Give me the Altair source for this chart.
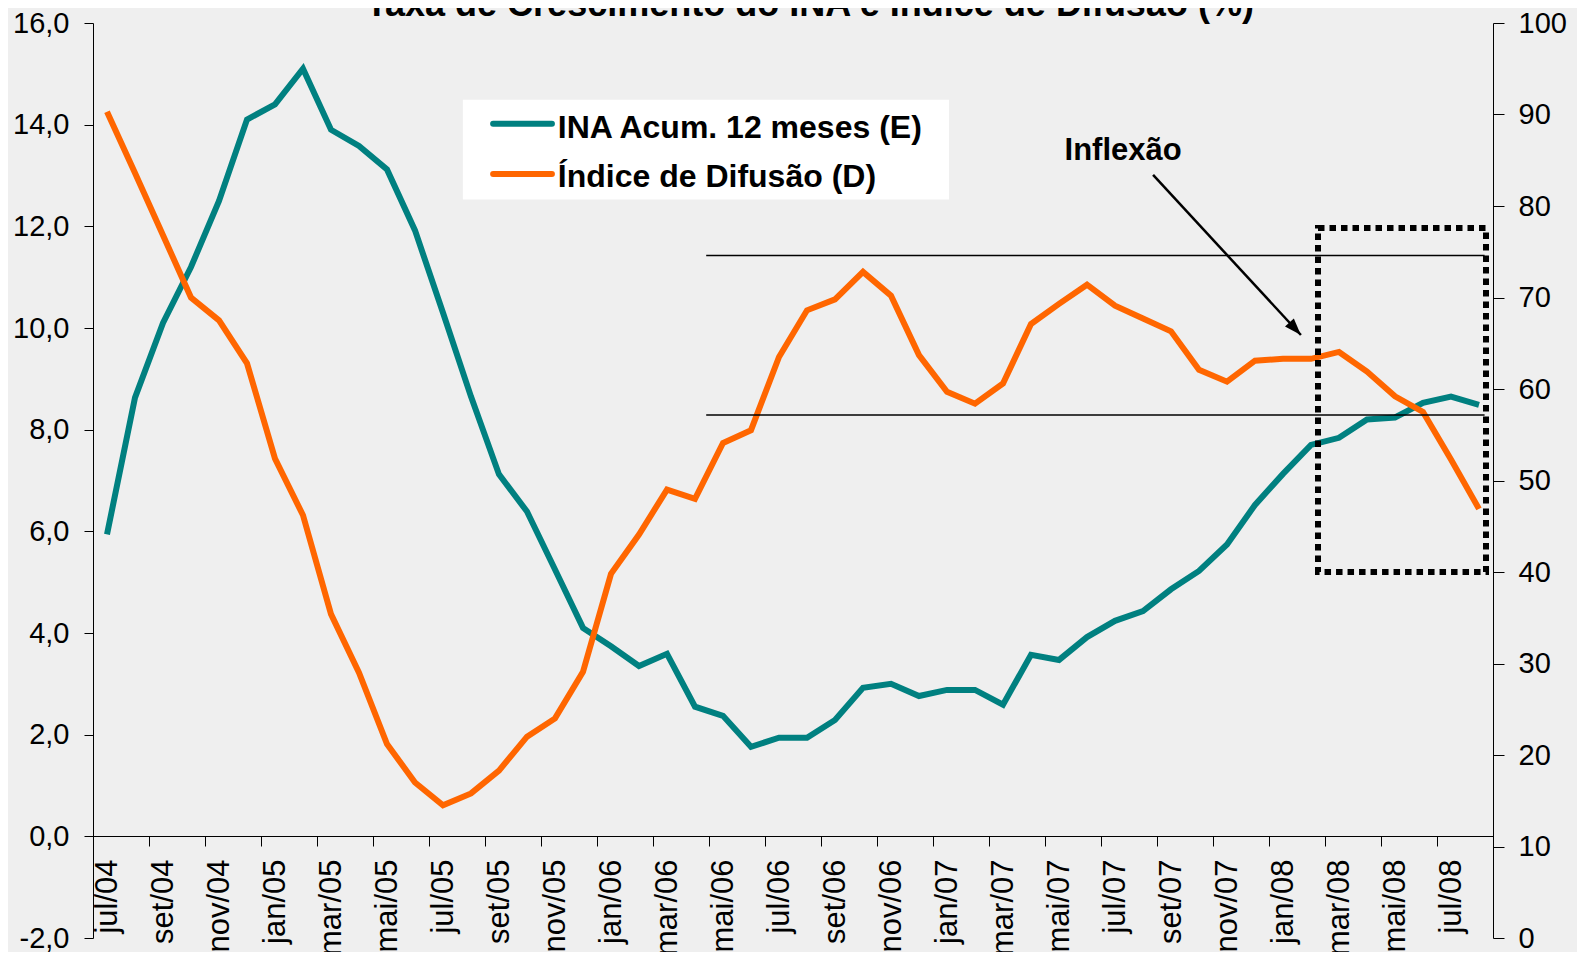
import json
import altair as alt
import pandas as pd

FONT = "Liberation Sans"

# ---- data -------------------------------------------------------------
months = [
    "jul/04", "ago/04", "set/04", "out/04", "nov/04", "dez/04",
    "jan/05", "fev/05", "mar/05", "abr/05", "mai/05", "jun/05",
    "jul/05", "ago/05", "set/05", "out/05", "nov/05", "dez/05",
    "jan/06", "fev/06", "mar/06", "abr/06", "mai/06", "jun/06",
    "jul/06", "ago/06", "set/06", "out/06", "nov/06", "dez/06",
    "jan/07", "fev/07", "mar/07", "abr/07", "mai/07", "jun/07",
    "jul/07", "ago/07", "set/07", "out/07", "nov/07", "dez/07",
    "jan/08", "fev/08", "mar/08", "abr/08", "mai/08", "jun/08",
    "jul/08", "ago/08",
]
ina = [
    5.94, 8.63, 10.1, 11.2, 12.5, 14.1, 14.4, 15.1, 13.9, 13.58,
    13.12, 11.92, 10.3, 8.65, 7.12, 6.39, 5.25, 4.1, 3.74, 3.35,
    3.59, 2.55, 2.37, 1.76, 1.94, 1.94, 2.29, 2.92, 3.0, 2.76,
    2.88, 2.88, 2.59, 3.57, 3.47, 3.92, 4.24, 4.43, 4.86, 5.22,
    5.74, 6.52, 7.13, 7.7, 7.84, 8.2, 8.24, 8.53, 8.65, 8.49,
]
difusao = [
    90.3, 83.6, 76.8, 70.0, 67.5, 62.8, 52.4, 46.2, 35.4, 29.0,
    21.2, 17.0, 14.5, 15.8, 18.3, 22.0, 24.0, 29.1, 39.8, 44.1,
    49.0, 48.0, 54.1, 55.5, 63.5, 68.6, 69.8, 72.8, 70.2, 63.7,
    59.7, 58.4, 60.6, 67.1, 69.3, 71.4, 69.1, 67.7, 66.3, 62.1,
    60.8, 63.1, 63.3, 63.3, 64.05, 61.9, 59.2, 57.5, 52.3, 46.9,
]
tick_months = months[::2]

title_text = "Taxa de Crescimento do INA e Índice de Difusão (%)"
series_names = ["INA Acum. 12 meses (E)", "Índice de Difusão (D)"]
series_colors = ["#008080", "#FF6600"]

# annotations (x in month units, y on the right-hand scale)
title_pos = [25.6, 100.75]
band_x0, band_x1 = [21.9], [49.7]
band_levels = [74.6, 57.15]
box_x = [43.75, 49.75]
box_y = [40.0, 77.6]
arrow_from = [37.86, 83.4]
arrow_to = [43.14, 65.9]
arrow_angle = 137.4
note_text = "Inflexão"
note_pos = [36.79, 85.08]
legend_box_x = [13.21, 30.57]
legend_box_y = [80.7, 91.6]
legend_sym_x = [14.29, 16.39]
legend_sym_y = [89.0, 83.5]
legend_text_x = 16.6
legend_text_y = [87.47, 82.03]

# ---- tables -----------------------------------------------------------
df = pd.DataFrame({
    "mes": months,
    "pos": [i + 0.5 for i in range(len(months))],
    "ina": ina,
    "difusao": difusao,
})
rules_df = pd.DataFrame({"x": band_x0 * len(band_levels),
                         "x2": band_x1 * len(band_levels),
                         "y": band_levels})
box_df = pd.DataFrame({"x": [box_x[0]], "x2": [box_x[1]],
                       "y": [box_y[0]], "y2": [box_y[1]]})
arrow_df = pd.DataFrame({"x": [arrow_from[0]], "y": [arrow_from[1]],
                         "x2": [arrow_to[0]], "y2": [arrow_to[1]]})
head_df = pd.DataFrame({"x": [arrow_to[0]], "y": [arrow_to[1]]})
note_df = pd.DataFrame({"x": [note_pos[0]], "y": [note_pos[1]], "t": [note_text]})
title_df = pd.DataFrame({"x": [title_pos[0]], "y": [title_pos[1]], "t": [title_text]})
leg_box_df = pd.DataFrame({"x": [legend_box_x[0]], "x2": [legend_box_x[1]],
                           "y": [legend_box_y[0]], "y2": [legend_box_y[1]]})
leg_df = pd.DataFrame({
    "name": series_names,
    "x": [legend_sym_x[0]] * 2,
    "x2": [legend_sym_x[1]] * 2,
    "ys": legend_sym_y,
    "tx": [legend_text_x] * 2,
    "ty": legend_text_y,
})

# ---- scales / axes ----------------------------------------------------
xscale = alt.Scale(domain=[0, len(months)], nice=False, zero=False)
left_scale = alt.Scale(domain=[-2, 16], nice=False, zero=False)
right_scale = alt.Scale(domain=[0, 100], nice=False, zero=False)

x_axis = alt.Axis(
    values=list(range(0, len(months), 2)),
    labelExpr=json.dumps(tick_months) + "[datum.value / 2]",
    labelAngle=270, labelAlign="right", labelBaseline="middle",
    labelOffset=14, labelPadding=13, tickSize=10,
    offset=-102, grid=False, title=None,
    labelFontSize=31, labelFont=FONT, labelColor="black",
    domainColor="black", tickColor="black", labelOverlap=False,
    labelBound=False, labelFlush=False,
)
left_axis = alt.Axis(
    values=list(range(-2, 17, 2)),
    labelExpr="replace(replace(format(datum.value, '.1f'), '.', ','), '\u2212', '-')",
    orient="left", grid=False, title=None, tickSize=9, labelPadding=15,
    labelFontSize=29, labelFont=FONT, labelColor="black",
    domainColor="black", tickColor="black", labelFlush=False,
)
right_axis = alt.Axis(
    values=list(range(0, 101, 10)), format="d",
    orient="right", grid=False, title=None, tickSize=11, labelPadding=14,
    labelFontSize=29, labelFont=FONT, labelColor="black",
    domainColor="black", tickColor="black", labelFlush=False,
)

X = lambda f: alt.X(f, type="quantitative", scale=xscale, axis=None)
YR = lambda f: alt.Y(f, type="quantitative", scale=right_scale, axis=None)

# ---- layers -----------------------------------------------------------
ina_line = alt.Chart(df).mark_line(
    color=series_colors[0], strokeWidth=6, strokeJoin="miter"
).encode(
    x=alt.X("pos:Q", scale=xscale, axis=x_axis),
    y=alt.Y("ina:Q", scale=left_scale, axis=left_axis),
)
dif_line = alt.Chart(df).mark_line(
    color=series_colors[1], strokeWidth=6, strokeJoin="miter"
).encode(
    x=X("pos"),
    y=alt.Y("difusao:Q", scale=right_scale, axis=right_axis),
)
rules = alt.Chart(rules_df).mark_rule(color="black", strokeWidth=1.5).encode(
    x=X("x"), x2="x2", y=YR("y")
)
box = alt.Chart(box_df).mark_rect(
    fillOpacity=0, stroke="black", strokeWidth=6, strokeDash=[6.5, 5]
).encode(x=X("x"), x2="x2", y=YR("y"), y2="y2")
arrow = alt.Chart(arrow_df).mark_rule(color="black", strokeWidth=2.5).encode(
    x=X("x"), x2="x2", y=YR("y"), y2="y2"
)
head = alt.Chart(head_df).mark_point(
    shape="M0,0L-0.6,1.7L0.6,1.7Z", filled=True, color="black",
    opacity=1, size=400, angle=arrow_angle, strokeWidth=0,
).encode(x=X("x"), y=YR("y"))
note = alt.Chart(note_df).mark_text(
    font=FONT, fontSize=31, fontWeight="bold", color="black",
    align="center", baseline="alphabetic",
).encode(x=X("x"), y=YR("y"), text="t:N")
title = alt.Chart(title_df).mark_text(
    font=FONT, fontSize=36, fontWeight="bold", color="black",
    align="center", baseline="alphabetic",
).encode(x=X("x"), y=YR("y"), text="t:N")
leg_box = alt.Chart(leg_box_df).mark_rect(color="white").encode(
    x=X("x"), x2="x2", y=YR("y"), y2="y2"
)
color_scale = alt.Scale(domain=series_names, range=series_colors)
leg_sym = alt.Chart(leg_df).mark_rule(strokeWidth=6, strokeCap="round").encode(
    x=X("x"), x2="x2", y=YR("ys"),
    color=alt.Color("name:N", scale=color_scale, legend=None),
)
leg_txt = alt.Chart(leg_df).mark_text(
    font=FONT, fontSize=32, fontWeight="bold", color="black",
    align="left", baseline="alphabetic",
).encode(x=X("tx"), y=YR("ty"), text="name:N")

chart = alt.layer(
    ina_line, dif_line, rules, box, arrow, head, note, title,
    leg_box, leg_sym, leg_txt
).resolve_scale(
    y="independent"
).resolve_axis(
    x="independent"
).properties(
    width=1400,
    height=915,
    autosize=alt.AutoSizeParams(type="none"),
    padding={"left": 85, "top": 15, "right": 84, "bottom": 14},
    background="#efefef",
).configure_view(stroke=None)

chart.save("out.html", embed_options={"renderer": "svg", "actions": False})
